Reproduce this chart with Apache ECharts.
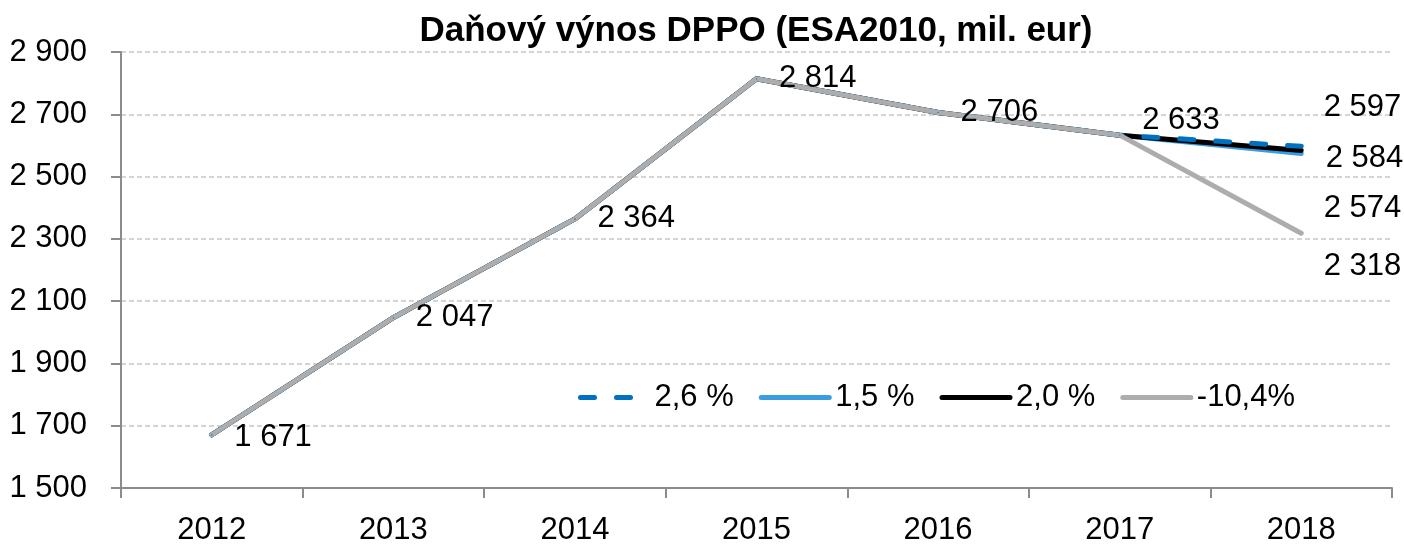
<!DOCTYPE html>
<html>
<head>
<meta charset="utf-8">
<script src="https://cdn.jsdelivr.net/npm/echarts@6/dist/echarts.min.js"></script>
<style>
  html, body { margin: 0; padding: 0; background: #fff; }
  #container { width: 1404px; height: 550px; }
</style>
</head>
<body>
<div id="container"></div>
<script>
/* Daňový výnos DPPO */
const years = ['2012', '2013', '2014', '2015', '2016', '2017', '2018'];
const v26 = [1671, 2047, 2364, 2814, 2706, 2633, 2597];   // 2,6 %
const v15 = [1671, 2047, 2364, 2814, 2706, 2633, 2574];   // 1,5 %
const v20 = [1671, 2047, 2364, 2814, 2706, 2633, 2584];   // 2,0 %
const v104 = [1671, 2047, 2364, 2814, 2706, 2633, 2318];  // -10,4%
const legendNames = ['2,6 %', '1,5 %', '2,0 %', '-10,4%'];
const yTicks = { min: 1500, max: 2900, step: 200 };

const font = "'Liberation Sans', Arial, sans-serif";
const fs = 31;

function fmt(v) {
    return String(v).replace(/\B(?=(\d{3})+(?!\d))/g, ' ');
}

// posun popisků (jen vzhled)
function withLabels(values, showAll, offsets) {
    return values.map(function (v, i) {
        const show = showAll || i === values.length - 1;
        return {
            value: v,
            label: { show: show, offset: offsets[i] || [0, 0] }
        };
    });
}

function lineSeries(name, values, color, dashed, showAll, offsets) {
    return {
        name: name,
        type: 'line',
        symbol: 'circle',
        symbolSize: 1,
        showSymbol: true,
        data: withLabels(values, showAll, offsets),
        lineStyle: {
            color: color,
            width: 5,
            type: dashed ? [14, 22] : 'solid',
            cap: 'round',
            join: 'round'
        },
        itemStyle: { color: color },
        label: {
            position: 'right',
            distance: 22,
            color: '#000',
            fontFamily: font,
            fontSize: fs,
            formatter: function (p) { return fmt(p.value); }
        },
        emphasis: { disabled: true }
    };
}

const dom = document.getElementById('container');
const myChart = echarts.init(dom);
const option = {
    animation: false,
    title: {
        text: 'Daňový výnos DPPO (ESA2010, mil. eur)',
        left: 751,
        textAlign: 'center',
        top: 9,
        textStyle: {
            fontFamily: font,
            fontWeight: 'bold',
            fontSize: 35,
            color: '#000'
        }
    },
    legend: {
        data: legendNames,
        left: 573,
        top: 377,
        itemWidth: 68,
        itemHeight: 14,
        itemGap: 25,
        itemStyle: { opacity: 0 },
        lineStyle: { width: 5 },
        textStyle: { fontFamily: font, fontSize: fs, color: '#000', padding: [0, 0, 0, 1] }
    },
    grid: { left: 121, right: 12, top: 52, bottom: 62, containLabel: false },
    xAxis: {
        type: 'category',
        data: years,
        boundaryGap: true,
        axisLine: { lineStyle: { color: '#8c8c8c', width: 2 } },
        axisTick: { show: true, length: 10, lineStyle: { color: '#8c8c8c', width: 2 } },
        axisLabel: { color: '#000', fontFamily: font, fontSize: fs, margin: 27 }
    },
    yAxis: {
        type: 'value',
        min: yTicks.min,
        max: yTicks.max,
        interval: yTicks.step,
        axisLine: { show: true, lineStyle: { color: '#8c8c8c', width: 2 } },
        axisTick: { show: true, length: 10, lineStyle: { color: '#8c8c8c', width: 2 } },
        axisLabel: {
            color: '#000', fontFamily: font, fontSize: fs, margin: 34,
            formatter: fmt
        },
        splitLine: { lineStyle: { color: '#c8c8c8', width: 1.5, type: [5, 3] } }
    },
    series: [
        lineSeries('1,5 %', v15, '#3a9de0', false, false, { 6: [0, 55] }),
        lineSeries('2,0 %', v20, '#000000', false, false, { 6: [2, 8] }),
        lineSeries('2,6 %', v26, '#0070c0', true, false, { 6: [0, -39] }),
        lineSeries('-10,4%', v104, '#adadad', false, true,
            { 0: [0, 3], 5: [0, -15], 6: [0, 33] })
    ]
};
myChart.setOption(option, true);
</script>
</body>
</html>
